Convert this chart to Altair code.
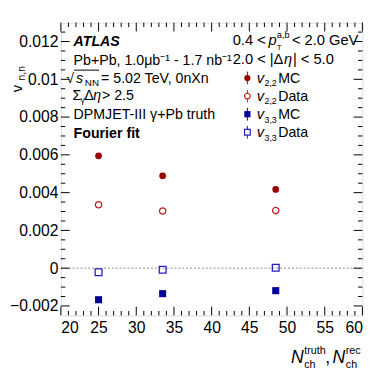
import altair as alt
import pandas as pd

# ---- data ----
n_ch = [25.0, 33.5, 48.5]
v22_mc = [0.00595, 0.00489, 0.00417]
v22_data = [0.00336, 0.00303, 0.00305]
v33_mc = [-0.00167, -0.00135, -0.00119]
v33_data = [-0.00022, -0.00008, 0.00002]

x_major = [20, 25, 30, 35, 40, 45, 50, 55, 60]
x_minor = [21, 22, 23, 24, 26, 27, 28, 29, 31, 32, 33, 34, 36, 37, 38, 39,
           41, 42, 43, 44, 46, 47, 48, 49, 51, 52, 53, 54, 56, 57, 58, 59]
y_major = [-0.002, 0.0, 0.002, 0.004, 0.006, 0.008, 0.010, 0.012]
y_minor = [-0.0015, -0.001, -0.0005, 0.0005, 0.001, 0.0015, 0.0025, 0.003, 0.0035,
           0.0045, 0.005, 0.0055, 0.0065, 0.007, 0.0075, 0.0085, 0.009, 0.0095,
           0.0105, 0.011, 0.0115, 0.0125]

W, H = 308, 299
FONT = "Liberation Sans"
RED_MC = "#9a0000"
RED_DATA = "#c02020"
BLUE_MC = "#00009a"
BLUE_DATA = "#2020c0"

xs = alt.Scale(domain=[20, 60], nice=False, zero=False)
ys = alt.Scale(domain=[-0.0025, 0.013], nice=False, zero=False)

XAX = alt.Axis(values=x_major, title=None, tickSize=0, domain=False, grid=False,
               labelFont=FONT, labelFontSize=16, labelColor="black", labelPadding=4)
YAX = alt.Axis(values=y_major, title=None, tickSize=0, domain=False, grid=False,
               labelFont=FONT, labelFontSize=16, labelColor="black", labelPadding=3,
               format="~g")

one = pd.DataFrame({"a": [0]})


def series_df(vals):
    return pd.DataFrame({"x": n_ch, "y": vals})


def txt(x, y, s, size=14.5, style="normal", weight="normal", align="left", angle=0,
        baseline="alphabetic"):
    return alt.Chart(one).mark_text(
        font=FONT, fontSize=size, fontStyle=style, fontWeight=weight, align=align,
        baseline=baseline, angle=angle, color="black"
    ).encode(x=alt.value(x), y=alt.value(y), text=alt.value(s))


layers = []

# zero line
layers.append(alt.Chart(one).mark_rule(color="#888888", strokeDash=[2, 2], strokeWidth=1).encode(
    y=alt.datum(0, scale=ys, axis=YAX), x=alt.value(0), x2=alt.value(W)))


# ticks (drawn inside the frame, on all four sides)
def xticks(vals, length):
    d = pd.DataFrame({"v": vals})
    b = alt.Chart(d).mark_rule(color="black", strokeWidth=1).encode(
        x=alt.X("v:Q", scale=xs, axis=XAX), y=alt.value(H), y2=alt.value(H - length))
    t = alt.Chart(d).mark_rule(color="black", strokeWidth=1).encode(
        x=alt.X("v:Q", scale=xs, axis=XAX), y=alt.value(0), y2=alt.value(length))
    return [b, t]


def yticks(vals, length):
    d = pd.DataFrame({"v": vals})
    l = alt.Chart(d).mark_rule(color="black", strokeWidth=1).encode(
        y=alt.Y("v:Q", scale=ys, axis=YAX), x=alt.value(0), x2=alt.value(length))
    r = alt.Chart(d).mark_rule(color="black", strokeWidth=1).encode(
        y=alt.Y("v:Q", scale=ys, axis=YAX), x=alt.value(W), x2=alt.value(W - length))
    return [l, r]


layers += xticks(x_major, 9) + xticks(x_minor, 4.5) + yticks(y_major, 9) + yticks(y_minor, 4.5)


# data points
def enc():
    return dict(x=alt.X("x:Q", scale=xs, axis=XAX), y=alt.Y("y:Q", scale=ys, axis=YAX))


layers.append(alt.Chart(series_df(v22_mc)).mark_circle(size=48, color=RED_MC, opacity=1).encode(**enc()))
layers.append(alt.Chart(series_df(v22_data)).mark_point(shape="circle", size=42, color=RED_DATA,
                                                       filled=False, strokeWidth=1.3, opacity=1).encode(**enc()))
layers.append(alt.Chart(series_df(v33_mc)).mark_square(size=52, color=BLUE_MC, opacity=1).encode(**enc()))
layers.append(alt.Chart(series_df(v33_data)).mark_point(shape="square", size=48, color=BLUE_DATA,
                                                       filled=False, strokeWidth=1.3, opacity=1).encode(**enc()))

# left text block
layers.append(txt(13, 24, "ATLAS", size=14.5, style="italic", weight="bold"))
layers.append(txt(13, 43, "Pb+Pb, 1.0\u03bcb\u207b\u00b9 - 1.7 nb\u207b\u00b9"))
layers.append(txt(5.5, 62, "\u221a"))
layers.append(txt(15.5, 62, "s", style="italic"))
layers.append(txt(24.5, 65, "NN", size=10))
layers.append(alt.Chart(one).mark_rule(color="black", strokeWidth=1).encode(
    x=alt.value(13.5), x2=alt.value(39), y=alt.value(48.5)))
layers.append(txt(41, 62, "= 5.02 TeV, 0nXn"))
layers.append(txt(12, 79, "\u03a3"))
layers.append(txt(20, 82, "\u03b3", size=9))
layers.append(txt(24, 79, "\u0394"))
layers.append(txt(33, 79, "\u03b7", style="italic"))
layers.append(txt(42, 79, "> 2.5"))
layers.append(txt(13, 98, "DPMJET-III \u03b3+Pb truth"))
layers.append(txt(13, 118, "Fourier fit", weight="bold"))

# right header
layers.append(txt(175.5, 23, "0.4 <", size=15))
layers.append(txt(212, 23, "p", size=15, style="italic"))
layers.append(txt(220.5, 16, "a,b", size=9.5))
layers.append(txt(220.5, 28, "T", size=8))
layers.append(txt(236, 23, "< 2.0 GeV", size=15))
layers.append(txt(175.5, 42, "2.0 < |\u0394", size=15))
layers.append(txt(228, 42, "\u03b7", size=15, style="italic"))
layers.append(txt(237, 42, "| < 5.0", size=15))

# legend
leg_rows = [(56.5, "2,2", "MC", "mc", RED_MC, "circle"),
            (75, "2,2", "Data", "data", RED_DATA, "circle"),
            (93.5, "3,3", "MC", "mc", BLUE_MC, "square"),
            (112, "3,3", "Data", "data", BLUE_DATA, "square")]
mx = 190.5
for yy, sub, lab, kind, col, shp in leg_rows:
    layers.append(alt.Chart(one).mark_rule(color=col, strokeWidth=1).encode(
        x=alt.value(mx), y=alt.value(yy - 6.5), y2=alt.value(yy + 6.5)))
    if kind == "mc":
        layers.append(alt.Chart(one).mark_point(shape=shp, size=40, color=col, filled=True,
                                                opacity=1).encode(x=alt.value(mx), y=alt.value(yy)))
    else:
        layers.append(alt.Chart(one).mark_point(shape=shp, size=34, color="white", filled=True,
                                                opacity=1).encode(x=alt.value(mx), y=alt.value(yy)))
        layers.append(alt.Chart(one).mark_point(shape=shp, size=34, color=col, filled=False,
                                                strokeWidth=1.2, opacity=1).encode(
            x=alt.value(mx), y=alt.value(yy)))
    layers.append(txt(200, yy + 5, "v", size=15, style="italic"))
    layers.append(txt(208, yy + 8.5, sub, size=9))
    layers.append(txt(222, yy + 5, lab, size=14.5))

# y title
layers.append(txt(-40, 71, "v", size=15, angle=270))
layers.append(txt(-36.5, 59, "n,n", size=10.5, angle=270))

# x title
layers.append(txt(235, 348, "N", size=18, style="italic"))
layers.append(txt(248.5, 338, "truth", size=11))
layers.append(txt(248.5, 352.5, "ch", size=11))
layers.append(txt(270, 348, ",", size=18))
layers.append(txt(277.5, 348, "N", size=18, style="italic"))
layers.append(txt(291, 338, "rec", size=11))
layers.append(txt(291, 352.5, "ch", size=11))

chart = alt.layer(*layers).properties(
    width=W, height=H,
    padding={"left": 54, "top": 11, "right": 20, "bottom": 61},
    autosize=alt.AutoSizeParams(type="none"),
).configure_view(stroke="black", strokeWidth=1).configure(background="white")

chart.save("out.html", embed_options={"renderer": "svg", "actions": False})
